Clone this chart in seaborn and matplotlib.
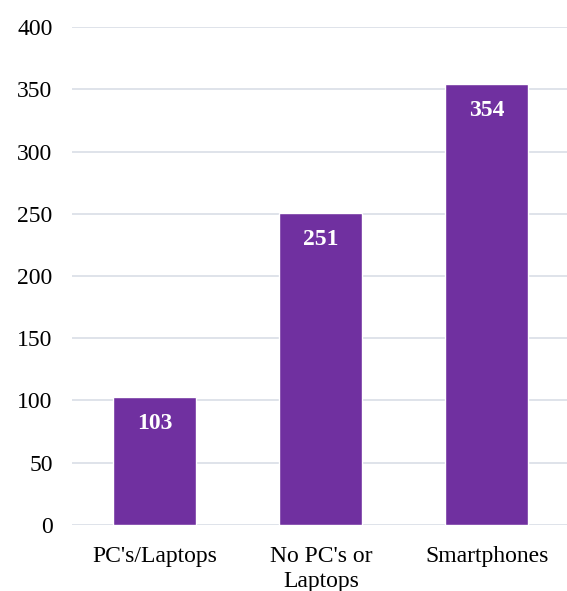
import matplotlib
matplotlib.use("Agg")
import matplotlib.pyplot as plt
import seaborn as sns
import pandas as pd

categories = ["PC's/Laptops", "No PC's or\nLaptops", "Smartphones"]
values = [103, 251, 354]
yticks = [0, 50, 100, 150, 200, 250, 300, 350, 400]

sns.set_theme(style="white")
plt.rcParams['font.family'] = ['Liberation Serif', 'DejaVu Serif']

df = pd.DataFrame({"cat": categories, "val": values})
fig = plt.figure(figsize=(5.67, 5.91), dpi=100)
ax = fig.add_axes([0.127, 0.1117, 0.878, 0.8426])
sns.barplot(data=df, x="cat", y="val", color="#7030A0", saturation=1, width=0.5, ax=ax, zorder=3)
ax.set_ylim(0, 400)
ax.set_xlim(-0.5, 2.5)
ax.set_yticks(yticks)
ax.set_yticklabels([str(t) for t in yticks], fontsize=17, color="#000000")
ax.set_xticklabels(categories, fontsize=17, color="#000000", linespacing=1.25)
ax.tick_params(axis="y", length=0, pad=14)
ax.tick_params(axis="x", length=0, pad=15)
ax.set_xlabel("")
ax.set_ylabel("")
ax.grid(axis="y", color="#D9DEE6", linewidth=1.2, zorder=0)
for s in ax.spines.values():
    s.set_visible(False)
for p, v in zip(ax.patches, values):
    ax.text(p.get_x() + p.get_width() / 2, v - 13, str(v), ha="center", va="top",
            color="white", fontsize=17, fontweight="bold")
fig.savefig("out.png", dpi=100)
